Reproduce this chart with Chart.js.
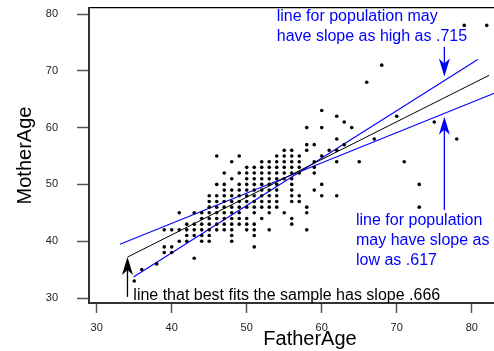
<!DOCTYPE html>
<html><head><meta charset="utf-8">
<script src="https://cdn.jsdelivr.net/npm/chart.js@4/dist/chart.umd.min.js"></script>
<style>
html,body{margin:0;padding:0;overflow:hidden;background:#fff;width:494px;height:351px}
#wrap{width:540px;height:351px;position:relative}
</style>
</head><body><div id="wrap"><canvas id="c" width="540" height="351"></canvas></div>
<script>
// ---- data ----
const xTicks = [30, 40, 50, 60, 70, 80];
const yTicks = [30, 40, 50, 60, 70, 80];
const motherAgeRows = [78, 71, 68, 63, 62, 61, 60, 58, 57, 56, 55, 54, 53, 52, 51, 50, 49, 48, 47, 46, 45, 44, 43, 42, 41, 40, 39, 38, 37, 36, 35, 33];
const fatherAgeRows = [
  [79, 82],
  [68],
  [66],
  [60],
  [62, 70],
  [63, 75],
  [58, 60, 64],
  [62, 67, 78],
  [58, 59, 63],
  [55, 56, 58, 61, 62],
  [46, 49, 54, 55, 56, 57, 60],
  [48, 52, 53, 54, 55, 56, 57, 59, 62, 65, 71],
  [50, 51, 52, 53, 54, 55, 56, 57, 59],
  [47, 49, 50, 51, 52, 53, 54, 55, 56, 57, 59],
  [48, 50, 51, 52, 53, 54, 55, 56],
  [46, 47, 49, 50, 51, 52, 53, 54, 56, 60, 73],
  [47, 48, 49, 50, 51, 52, 53, 54, 56, 59],
  [45, 46, 47, 48, 49, 50, 51, 52, 53, 54, 56, 57, 60, 62],
  [45, 46, 47, 48, 49, 50, 51, 52, 53, 54, 56, 57],
  [45, 46, 47, 48, 49, 50, 51, 52, 53, 54, 58, 73],
  [41, 43, 44, 45, 46, 47, 48, 49, 51, 53, 55, 58],
  [44, 45, 46, 47, 48, 49, 50, 52, 56],
  [42, 43, 44, 45, 46, 47, 48, 49, 50, 51, 56],
  [39, 40, 41, 42, 43, 44, 45, 46, 47, 48, 50, 51, 53, 58],
  [42, 43, 44, 45, 48, 51],
  [41, 42, 44, 45, 48],
  [39, 40, 51],
  [39, 40],
  [43],
  [38],
  [36],
  [35]
];
// fitted / bounding lines (endpoints in data units)
const fitLineFather = [34.1, 82.3];
const fitLineMother = [37.2, 69.2];
const highLineFather = [34.9, 80.8];
const highLineMother = [33.7, 72.0];
const lowLineFather = [33.1, 83.5];
const lowLineMother = [39.45, 66.3];
// annotation texts
const highText = ['line for population may', 'have slope as high as .715'];
const lowText = ['line for population', 'may have slope as', 'low as .617'];
const fitText = ['line that best fits the sample has slope .666'];

// ---- build ----
const points = [];
motherAgeRows.forEach((m, i) => fatherAgeRows[i].forEach(f => points.push({x: f, y: m})));
const seg = (xs, ys) => xs.map((v, i) => ({x: v, y: ys[i]}));

const FONT = "'Liberation Sans', Arial, Helvetica, sans-serif";
const layoutAnno = {
  arrows: [
    {x: 34.1, from: 30.2, to: 37.2, color: '#000'},
    {x: 76.35, from: 74.2, to: 69.0, color: '#0000ff'},
    {x: 76.35, from: 45.5, to: 61.9, color: '#0000ff'}
  ],
  texts: [
    {lines: highText, x: 54.0, y: [79.52, 76.0], color: '#0000ff'},
    {lines: lowText, x: 64.57, y: [43.6, 40.09, 36.57], color: '#0000ff'},
    {lines: fitText, x: 34.88, y: [30.4], color: '#000'}
  ]
};

const annotate = {
  id: 'annotate',
  afterDatasetsDraw(chart) {
    const {ctx, scales: {x, y}} = chart;
    ctx.save();
    layoutAnno.arrows.forEach(a => {
      const px = x.getPixelForValue(a.x);
      const y0 = y.getPixelForValue(a.from), y1 = y.getPixelForValue(a.to);
      const dir = Math.sign(y1 - y0);
      const headLen = 18, hw = 5.5, notch = 5;
      ctx.strokeStyle = a.color; ctx.fillStyle = a.color; ctx.lineWidth = 1.3;
      ctx.beginPath(); ctx.moveTo(px, y0); ctx.lineTo(px, y1 - dir * headLen * 0.6); ctx.stroke();
      ctx.beginPath();
      ctx.moveTo(px, y1);
      ctx.lineTo(px - hw, y1 - dir * headLen);
      ctx.lineTo(px, y1 - dir * (headLen - notch));
      ctx.lineTo(px + hw, y1 - dir * headLen);
      ctx.closePath(); ctx.fill();
    });
    ctx.font = '16px ' + FONT;
    ctx.textBaseline = 'middle'; ctx.textAlign = 'left';
    layoutAnno.texts.forEach(t => {
      ctx.fillStyle = t.color;
      t.lines.forEach((s, i) => ctx.fillText(s, x.getPixelForValue(t.x), y.getPixelForValue(t.y[i])));
    });
    ctx.restore();
  }
};

Chart.defaults.font.family = FONT;
new Chart(document.getElementById('c'), {
  type: 'scatter',
  data: {
    datasets: [
      {data: points, pointRadius: 1.8, pointBackgroundColor: '#000', pointBorderWidth: 0, borderColor: '#000'},
      {data: seg(fitLineFather, fitLineMother), showLine: true, pointRadius: 0, borderColor: '#000', borderWidth: 1},
      {data: seg(highLineFather, highLineMother), showLine: true, pointRadius: 0, borderColor: '#0000ff', borderWidth: 1.1},
      {data: seg(lowLineFather, lowLineMother), showLine: true, pointRadius: 0, borderColor: '#0000ff', borderWidth: 1.1}
    ]
  },
  options: {
    responsive: false,
    animation: false,
    layout: {padding: {top: 8, right: 9, left: 0, bottom: 0}},
    plugins: {legend: {display: false}, tooltip: {enabled: false}},
    scales: {
      x: {
        type: 'linear', position: 'bottom', min: 28.97, max: 87.9,
        afterBuildTicks: s => { s.ticks = xTicks.map(v => ({value: v})); },
        afterFit: s => { s.height = 48; s.paddingLeft = 0; s.paddingRight = 0; },
        grid: {drawOnChartArea: false, drawTicks: true, tickLength: 10, tickColor: '#555', tickWidth: 1.5},
        border: {display: true, color: '#333', width: 2},
        ticks: {color: '#222', font: {size: 11}, padding: 8, maxRotation: 0},
        title: {display: true, text: 'FatherAge', color: '#000', font: {size: 20}, padding: {top: 0, bottom: 0}}
      },
      x2: {
        type: 'linear', position: 'top', min: 28.97, max: 87.9,
        afterFit: s => { s.height = 0; s.paddingLeft = 0; s.paddingRight = 0; },
        grid: {display: false, drawTicks: false},
        ticks: {display: false},
        border: {display: true, color: '#000', width: 1.2}
      },
      y: {
        type: 'linear', position: 'left', min: 29.12, max: 81.06,
        afterBuildTicks: s => { s.ticks = yTicks.map(v => ({value: v})); },
        afterFit: s => { s.width = 89; s.paddingTop = 0; s.paddingBottom = 0; },
        grid: {drawOnChartArea: false, drawTicks: true, tickLength: 12, tickColor: '#555', tickWidth: 1.5},
        border: {display: true, color: '#333', width: 2},
        ticks: {color: '#222', font: {size: 11}, padding: 19},
        title: {display: true, text: 'MotherAge', color: '#000', font: {size: 20}, padding: {top: 13, bottom: 0}}
      }
    }
  },
  plugins: [annotate]
});
</script>
</body></html>
